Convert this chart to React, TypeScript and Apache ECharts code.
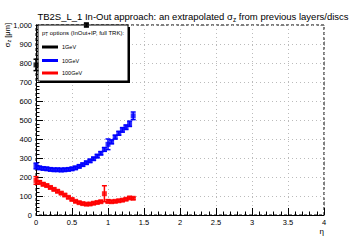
import React, { useEffect, useRef } from "react";
import * as echarts from "echarts";

const etaValues = [0, 0.05, 0.1, 0.15, 0.2, 0.25, 0.3, 0.35, 0.4, 0.45, 0.5, 0.55, 0.6, 0.65, 0.7, 0.75, 0.8, 0.85, 0.9, 0.95, 1.0, 1.05, 1.1, 1.15, 1.2, 1.25, 1.3, 1.35];
const sigma10GeV = [258, 248, 245, 243, 240, 238, 238, 237, 238, 240, 243, 248, 256, 265, 275, 285, 296, 310, 325, 345, 372, 385, 410, 430, 448, 462, 480, 522];
const err10GeV = [15, 8, 8, 8, 8, 8, 8, 8, 8, 8, 8, 8, 8, 8, 8, 8, 8, 8, 8, 10, 28, 10, 10, 10, 12, 12, 14, 20];
const sigma100GeV = [182, 172, 162, 155, 145, 135, 125, 115, 105, 93, 82, 72, 65, 60, 57, 58, 62, 66, 70, 112, 72, 70, 72, 75, 78, 83, 90, 88];
const err100GeV = [20, 8, 8, 7, 7, 7, 7, 6, 6, 6, 6, 6, 6, 6, 6, 6, 6, 6, 6, 42, 8, 6, 6, 6, 6, 6, 6, 6];
const eta1GeV = [0, 0.7];
const sigma1GeV = [790, 1000];
const err1GeV = [30, 10];

const xTicks = { min: 0, max: 4, interval: 0.5 };
const yTicks = { min: 0, max: 1000, interval: 100 };

const FONT = "Liberation Sans";

function pts(xs: number[], ys: number[], es: number[]) {
  return xs.map((x, i) => [x, ys[i], es[i]]);
}

function errSeries(name: string, data: number[][], color: string, z: number) {
  return {
    type: "custom",
    name: name + "-err",
    data,
    z,
    renderItem: (params: any, api: any) => {
      const x = api.value(0);
      const y = api.value(1);
      const e = api.value(2);
      const top = api.coord([x, y + e]);
      const bot = api.coord([x, y - e]);
      const cap = 2.5;
      return {
        type: "group",
        children: [
          { type: "line", shape: { x1: top[0], y1: top[1], x2: bot[0], y2: bot[1] }, style: { stroke: color, lineWidth: 1.5 } },
          { type: "line", shape: { x1: top[0] - cap, y1: top[1], x2: top[0] + cap, y2: top[1] }, style: { stroke: color, lineWidth: 1.5 } },
          { type: "line", shape: { x1: bot[0] - cap, y1: bot[1], x2: bot[0] + cap, y2: bot[1] }, style: { stroke: color, lineWidth: 1.5 } },
        ],
      };
    },
    clip: false,
  };
}

export default function App() {
  const ref = useRef<HTMLDivElement>(null);
  useEffect(() => {
    if (!ref.current) return;
    const chart = echarts.init(ref.current, null, { renderer: "svg" });
    const d1 = pts(eta1GeV, sigma1GeV, err1GeV);
    const d10 = pts(etaValues, sigma10GeV, err10GeV);
    const d100 = pts(etaValues, sigma100GeV, err100GeV);
    const legendTop = 25;
    const legendLeft = 38;
    chart.setOption({
      animation: false,
      backgroundColor: "#fff",
      title: {
        text: "TB2S_L_1 In-Out approach: an extrapolated σ{sub|z} from previous layers/discs",
        left: 188,
        textAlign: "center",
        top: 5,
        textStyle: {
          fontFamily: FONT,
          fontSize: 9.5,
          fontWeight: "normal",
          color: "#000",
          rich: {
            sub: { fontFamily: FONT, fontSize: 6.5, padding: [6, 0, 0, 0], color: "#000" },
          },
        },
      },
      grid: {
        left: 36,
        right: 36,
        top: 25,
        bottom: 25,
        show: true,
        borderColor: "#000",
        borderWidth: 1,
        borderType: [3, 2],
        backgroundColor: "transparent",
      } as any,
      xAxis: {
        type: "value",
        min: xTicks.min,
        max: xTicks.max,
        interval: xTicks.interval,
        name: "η",
        nameLocation: "end",
        nameGap: 0,
        nameTextStyle: { fontFamily: FONT, fontSize: 8, color: "#000", align: "right", verticalAlign: "top", padding: [12, 0, 0, 0] },
        axisLine: { show: true, onZero: false, lineStyle: { color: "#000", width: 1 } },
        axisTick: { show: true, inside: true, length: 7, lineStyle: { color: "#000" } },
        minorTick: { show: true, splitNumber: 5, length: 3.5, lineStyle: { color: "#000" } },
        axisLabel: { fontFamily: FONT, fontSize: 7.5, color: "#000", margin: 3 },
        splitLine: { show: true, lineStyle: { color: "#bbb", type: [1, 3], width: 1 } },
      },
      yAxis: {
        type: "value",
        min: yTicks.min,
        max: yTicks.max,
        interval: yTicks.interval,
        axisLine: { show: true, onZero: false, lineStyle: { color: "#000", width: 1 } },
        axisTick: { show: true, inside: true, length: 7, lineStyle: { color: "#000" } },
        minorTick: { show: true, splitNumber: 5, length: 3.5, lineStyle: { color: "#000" } },
        axisLabel: { fontFamily: FONT, fontSize: 7.5, color: "#000", margin: 4 },
        splitLine: { show: true, lineStyle: { color: "#bbb", type: [1, 3], width: 1 } },
      },
      series: [
        errSeries("10GeV", d10, "#0000ff", 5),
        errSeries("100GeV", d100, "#ff0000", 5),
        { type: "scatter", name: "10GeV", data: d10, symbol: "rect", symbolSize: [5, 5], itemStyle: { color: "#0000ff" }, z: 6 },
        { type: "scatter", name: "100GeV", data: d100, symbol: "rect", symbolSize: [5, 5], itemStyle: { color: "#ff0000" }, z: 6 },
        errSeries("1GeV", d1, "#000", 7),
        { type: "scatter", name: "1GeV", data: d1, symbol: "rect", symbolSize: [5, 5], itemStyle: { color: "#000" }, z: 8, clip: false },
      ],
      graphic: [
        {
          type: "text", x: 7, y: 23, rotation: Math.PI / 2, z: 3,
          style: {
            text: "σ{sub|z} [μm]",
            fontFamily: FONT, fontSize: 7.5, fill: "#000", align: "right", verticalAlign: "middle",
            rich: { sub: { fontFamily: FONT, fontSize: 5.5, padding: [4, 0, 0, 0], fill: "#000" } },
          },
        },
        { type: "rect", shape: { x: legendLeft + 2, y: legendTop + 2, width: 90, height: 56 }, style: { fill: "#000" }, z: 1 },
        { type: "rect", shape: { x: legendLeft, y: legendTop, width: 90, height: 56 }, style: { fill: "#fff", stroke: "#000", lineWidth: 1 }, z: 2 },
        {
          type: "text", x: legendLeft + 4, y: legendTop + 8, z: 3,
          style: {
            text: "p{sub|T} options (InOut+IP, full TRK):",
            fontFamily: FONT, fontSize: 6, fill: "#000", verticalAlign: "middle",
            rich: { sub: { fontFamily: FONT, fontSize: 4.5, padding: [3, 0, 0, 0], fill: "#000" } },
          },
        },
        { type: "line", shape: { x1: legendLeft + 4, y1: 47, x2: legendLeft + 20, y2: 47 }, style: { stroke: "#000", lineWidth: 3 }, z: 3 },
        { type: "text", x: legendLeft + 24, y: 47, z: 3, style: { text: "1GeV", fontFamily: FONT, fontSize: 5.5, fill: "#000", verticalAlign: "middle" } },
        { type: "line", shape: { x1: legendLeft + 4, y1: 60.5, x2: legendLeft + 20, y2: 60.5 }, style: { stroke: "#0000ff", lineWidth: 3 }, z: 3 },
        { type: "text", x: legendLeft + 24, y: 60.5, z: 3, style: { text: "10GeV", fontFamily: FONT, fontSize: 5.5, fill: "#000", verticalAlign: "middle" } },
        { type: "line", shape: { x1: legendLeft + 4, y1: 73, x2: legendLeft + 20, y2: 73 }, style: { stroke: "#ff0000", lineWidth: 3 }, z: 3 },
        { type: "text", x: legendLeft + 24, y: 73, z: 3, style: { text: "100GeV", fontFamily: FONT, fontSize: 5.5, fill: "#000", verticalAlign: "middle" } },
      ],
    });
    return () => chart.dispose();
  }, []);
  return <div ref={ref} style={{ position: "fixed", left: 0, top: 0, width: 360, height: 240, background: "#fff" }} />;
}
